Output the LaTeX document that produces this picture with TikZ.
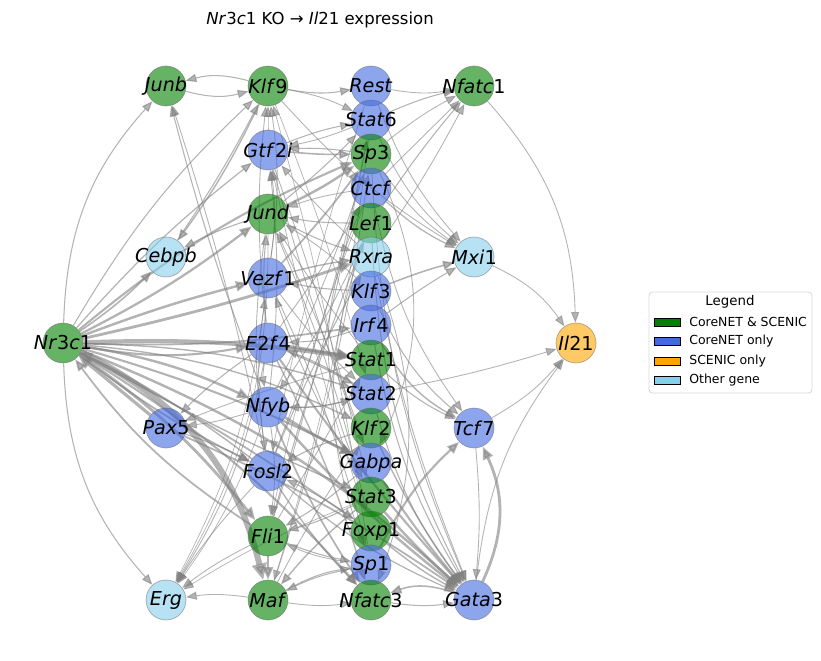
\documentclass[tikz,border=0pt]{standalone}
\usepackage{fontspec}
\setmainfont{DejaVu Sans}
\usetikzlibrary{arrows.meta}
\pgfdeclarelayer{background}
\pgfsetlayers{background,main}
\definecolor{cgreen}{RGB}{0,128,0}
\definecolor{cblue}{RGB}{65,105,225}
\definecolor{corange}{RGB}{255,165,0}
\definecolor{csky}{RGB}{135,206,235}
\tikzset{
	gene/.style={circle, minimum size=0.8cm, inner sep=0pt, draw=black!60, line width=0.4pt,
		fill opacity=0.6, draw opacity=0.5},
	lbl/.style={inner sep=0pt, font=\fontsize{10.9}{12}\selectfont},
	edge/.style={draw=gray, opacity=0.6, -{Triangle[length=0.19cm 1.2, width=0.14cm 1.2]}},
	legpatch/.style={draw=black, line width=0.5pt, minimum width=0.52cm, minimum height=0.16cm, inner sep=0pt},
	legtext/.style={anchor=west, inner sep=0pt, font=\fontsize{7.1}{8}\selectfont},
}
\begin{document}
\begin{tikzpicture}[x=0.02cm, y=-0.02cm]
\useasboundingbox (0,0) rectangle (821,660);

\node[font=\fontsize{9.4}{11}\selectfont] (title) at (320,20) {\textit{Nr}3\textit{c}1 KO → \textit{Il}21 expression};

% Genes
\foreach \n/\x/\y/\c in {nr/63/343/cgreen,
		junb/166/86/cgreen, cebpb/166/257/csky, pax/166/428/cblue, erg/166/600/csky,
		klf9/268/86/cgreen, gtf/268/150/cblue, jund/268/214/cgreen, vezf/268/278/cblue,
		e2f/268/343/cblue, nfyb/268/407/cblue, fosl/268/471/cblue, fli/268/536/cgreen, maf/268/600/cgreen,
		rest/371/86/cblue, stat6/371/120/cblue, sp3/371/154/cgreen, ctcf/371/188/cblue,
		lef/371/223/cgreen, rxra/371/257/csky, klf3/371/291/cblue, irf/371/325/cblue,
		stat1/371/360/cgreen, stat2/371/394/cblue, klf2/371/428/cgreen, gabpa/371/463/cblue,
		stat3/371/497/cgreen, foxp/371/531/cgreen, sp1/371/565/cblue, nfatc3/371/600/cgreen,
		nfatc1/474/86/cgreen, mxi/474/257/csky, tcf/474/428/cblue, gata/474/600/cblue,
		il/576/343/corange}
	\node[gene, fill=\c] (\n) at (\x,\y) {};

\foreach \n/\l in {nr/{\textit{Nr}3\textit{c}1}, junb/{\textit{Junb}}, cebpb/{\textit{Cebpb}},
		pax/{\textit{Pax}5}, erg/{\textit{Erg}}, klf9/{\textit{Klf}9}, gtf/{\textit{Gtf}2\textit{i}},
		jund/{\textit{Jund}}, vezf/{\textit{Vezf}1}, e2f/{\textit{E}2\textit{f}4}, nfyb/{\textit{Nfyb}},
		fosl/{\textit{Fosl}2}, fli/{\textit{Fli}1}, maf/{\textit{Maf}}, rest/{\textit{Rest}},
		stat6/{\textit{Stat}6}, sp3/{\textit{Sp}3}, ctcf/{\textit{Ctcf}}, lef/{\textit{Lef}1},
		rxra/{\textit{Rxra}}, klf3/{\textit{Klf}3}, irf/{\textit{Irf}4}, stat1/{\textit{Stat}1},
		stat2/{\textit{Stat}2}, klf2/{\textit{Klf}2}, gabpa/{\textit{Gabpa}}, stat3/{\textit{Stat}3},
		foxp/{\textit{Foxp}1}, sp1/{\textit{Sp}1}, nfatc3/{\textit{Nfatc}3}, nfatc1/{\textit{Nfatc}1},
		mxi/{\textit{Mxi}1}, tcf/{\textit{Tcf}7}, gata/{\textit{Gata}3}, il/{\textit{Il}21}}
	\node[lbl] at (\n) {\l};

% Aristas
\begin{pgfonlayer}{background}
\foreach \a/\b/\w/\r in {nr/junb/0.6/20, nr/klf9/0.6/8, nr/cebpb/0.9/-5, nr/gtf/0.7/5,
		nr/jund/1.3/-5, nr/vezf/1.4/3, nr/sp3/1.2/8, nr/rxra/1.6/-3, nr/e2f/1.2/-10,
		nr/irf/1.0/-5, nr/stat1/2.4/5, nr/stat2/0.8/8, nr/nfyb/1.4/8, nr/klf2/0.8/10,
		nr/gabpa/1.2/5, nr/fosl/1.0/-5, nr/fli/1.6/8, nr/maf/3.4/25, nr/erg/0.6/-20,
		nr/gata/1.4/10, nr/foxp/1.0/3, nr/nfatc3/1.2/8, nr/stat3/0.8/-3,
		pax/nr/1.8/0, fli/nr/1.0/10, fosl/nr/0.8/-5}
	\draw[edge, line width=\w pt] (\a) to[bend left=\r] (\b);

\foreach \a/\b/\w/\r in {klf9/junb/0.6/-15, junb/klf9/0.6/-15, nfyb/junb/0.6/3, fosl/junb/0.5/-3,
		klf9/cebpb/0.8/5, cebpb/klf9/0.6/-3, jund/cebpb/0.6/-5, pax/fosl/0.6/5,
		e2f/pax/0.6/-5, nfyb/pax/0.5/5, stat1/pax/0.5/-3, pax/gata/1.0/5,
		fosl/erg/0.5/-5, fli/erg/0.5/-5, e2f/erg/0.5/10, nfyb/erg/0.4/8, jund/erg/0.4/15,
		vezf/erg/0.4/10, maf/erg/0.5/-8, stat3/erg/0.4/-5,
		e2f/jund/0.6/5, vezf/gtf/0.5/-8, nfyb/gtf/0.5/-6, fosl/vezf/0.5/8, gtf/klf9/0.5/0,
		vezf/klf9/0.5/-8, e2f/klf9/0.5/6, fli/maf/1.4/0, jund/fosl/0.5/-8, nfyb/fli/0.5/8,
		e2f/nfyb/0.5/-10}
	\draw[edge, line width=\w pt] (\a) to[bend left=\r] (\b);

\foreach \a/\b/\w/\r in {klf9/rest/0.6/-10, klf9/stat6/0.5/8, gtf/sp3/0.9/-3, gtf/stat6/0.6/5,
		jund/sp3/1.4/-5, jund/stat6/0.6/-3, jund/rxra/0.6/-5, jund/foxp/0.5/5,
		vezf/sp3/1.0/-3, vezf/rxra/0.8/3, vezf/stat2/0.5/-5, vezf/sp1/0.5/5,
		e2f/stat1/1.8/0, e2f/stat2/0.8/3, e2f/ctcf/0.5/-3, e2f/nfatc3/0.8/5, e2f/gata/1.2/-3,
		nfyb/gabpa/1.6/-3, nfyb/sp3/0.5/-3, nfyb/stat2/0.6/-8, nfyb/nfatc3/1.0/-5, nfyb/gata/1.4/-5,
		fosl/stat6/0.5/-5, fosl/rxra/0.6/3, fosl/nfatc3/0.8/-5, fosl/gata/0.7/-8,
		fli/stat6/0.5/-3, fli/lef/0.6/3, fli/stat1/0.5/0, fli/sp1/0.6/-5,
		maf/sp3/0.5/-5, maf/klf2/0.5/3, maf/sp1/0.6/10, maf/nfatc3/0.5/-8,
		klf9/stat2/0.4/3, gtf/gabpa/0.5/-3, gtf/stat3/0.5/3}
	\draw[edge, line width=\w pt] (\a) to[bend left=\r] (\b);

\foreach \a/\b/\w/\r in {sp3/gtf/0.6/-5, stat6/gtf/0.5/5, lef/jund/0.6/5, ctcf/jund/0.5/-5,
		rxra/gtf/0.5/3, klf3/vezf/0.6/5, klf3/jund/0.5/-5, irf/e2f/0.6/8, stat1/jund/0.5/3,
		stat2/e2f/0.6/-5, stat2/nfyb/0.6/8, klf2/fosl/0.6/-5, gabpa/fli/0.6/5, gabpa/jund/0.5/-3,
		stat3/maf/0.8/-5, stat3/vezf/0.5/5, stat3/fli/0.6/5, foxp/fosl/0.6/-5, foxp/gtf/0.4/3,
		sp1/maf/0.6/-8, sp1/fli/0.5/8, sp1/klf9/0.4/-3, stat6/maf/0.4/5, rest/fosl/0.4/-3,
		lef/nfyb/0.5/5, ctcf/fli/0.4/-5,
		ctcf/stat3/0.5/-25, sp3/gabpa/0.5/25, lef/sp1/0.5/-20, rxra/nfatc3/0.5/20}
	\draw[edge, line width=\w pt] (\a) to[bend left=\r] (\b);

\foreach \a/\b/\w/\r in {rest/nfatc1/0.5/-10, stat6/nfatc1/0.6/5, sp3/nfatc1/0.5/5,
		lef/nfatc1/0.6/3, rxra/nfatc1/0.5/-3, ctcf/nfatc1/0.5/0,
		rest/mxi/0.5/-10, stat6/mxi/0.5/-12, sp3/mxi/0.5/-10, ctcf/mxi/0.7/-8,
		klf3/mxi/0.9/3, irf/mxi/0.6/3, klf9/mxi/0.5/-8,
		klf3/tcf/0.6/-12, irf/tcf/0.8/-15, stat1/tcf/0.6/-8, ctcf/tcf/0.5/-12, sp1/tcf/1.2/10,
		rxra/gata/0.5/-5, lef/gata/0.6/-12, sp3/gata/0.5/-10, irf/gata/0.6/-10,
		stat2/gata/0.6/-10, klf2/gata/0.8/-5, gabpa/gata/1.2/-3, stat3/gata/1.4/-3,
		foxp/gata/0.8/-5, stat2/il/0.5/-3,
		nfatc1/il/0.5/20, mxi/il/0.5/15, tcf/il/0.5/-10, gata/il/0.5/15,
		gata/tcf/1.6/-25, tcf/gata/0.5/5, gata/nfatc3/0.9/-20, nfatc3/gata/0.6/-8}
	\draw[edge, line width=\w pt] (\a) to[bend left=\r] (\b);
\end{pgfonlayer}

% Leyenda
\draw[black!15, line width=0.5pt, rounded corners=2pt] (649,292) rectangle (812,393);
\node[font=\fontsize{7.6}{9}\selectfont] (legtitle) at (730,302) {Legend};
\foreach \c/\t/\y in {cgreen/CoreNET \& SCENIC/322, cblue/CoreNET only/341.5,
		corange/SCENIC only/361, csky/Other gene/380.5} {
	\node[legpatch, fill=\c] (p\y) at (667,\y) {};
	\node[legtext] at (689,\y) {\t};
}
\end{tikzpicture}
\end{document}
